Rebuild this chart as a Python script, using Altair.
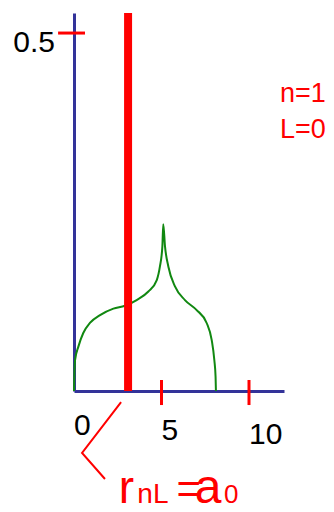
import altair as alt
import pandas as pd

# Green curve (radial probability)
curve_r = [0.0, 0.02, 0.06, 0.25, 0.53, 0.91, 1.49, 2.25, 2.91, 3.58, 4.25, 4.73, 4.91, 5.05, 5.10,
           5.20, 5.39, 5.77, 6.34, 7.01, 7.58, 7.87, 8.02, 8.09, 8.11]
curve_p = [0.0, 0.022, 0.043, 0.062, 0.081, 0.095, 0.106, 0.115, 0.119, 0.127, 0.139, 0.155, 0.174, 0.202, 0.233,
           0.202, 0.174, 0.146, 0.127, 0.113, 0.095, 0.071, 0.043, 0.02, 0.0]

# thick red line at r_nL
r_nl = [3.09]
y_top = 0.528

x_ticks = [5, 10]
x_tick_labels = ["0", "5", "10"]
x_tick_label_pos = [0, 5, 10]
x_tick_label_y = [-0.061, -0.0684, -0.0745]
y_tick = [0.5]
y_tick_label = ["0.5"]

# annotation texts
qn_texts = ["n=1", "L=0"]
qn_x = [11.77, 11.77]
qn_y = [0.4036, 0.353]

label_parts = ["r", "nL", "=", "a", "0"]
label_x = [2.55, 3.62, 5.85, 6.9, 8.57]
label_size = [46, 28, 42, 48, 26]
label_y = -0.157

pointer_x = [2.69, 0.46, 1.77]
pointer_y = [-0.0154, -0.0866, -0.1229]

RED = "#ff0000"
NAVY = "#333399"
GREEN = "#118811"
FONT = "Liberation Sans"

xs = alt.Scale(domain=[0, 12], nice=False, zero=False)
ys = alt.Scale(domain=[0, y_top], nice=False, zero=False)

axis_x = alt.Axis(domainColor=NAVY, domainWidth=3, ticks=False, labels=False, grid=False, title=None)
axis_y = alt.Axis(domainColor=NAVY, domainWidth=3, ticks=False, labels=False, grid=False, title=None)

curve_df = pd.DataFrame({"r": curve_r, "p": curve_p, "o": list(range(len(curve_r)))})
curve = alt.Chart(curve_df).mark_line(color=GREEN, strokeWidth=2, interpolate="monotone").encode(
    x=alt.X("r:Q", scale=xs, axis=axis_x),
    y=alt.Y("p:Q", scale=ys, axis=axis_y),
    order="o:Q",
)

bar_df = pd.DataFrame({"r": r_nl, "y0": [0.0], "y1": [y_top]})
bar = alt.Chart(bar_df).mark_rule(color=RED, strokeWidth=8).encode(
    x=alt.X("r:Q", scale=xs), y=alt.Y("y0:Q", scale=ys), y2="y1:Q"
)

xt_df = pd.DataFrame({"v": x_ticks, "a": [-0.0196] * len(x_ticks), "b": [0.0154] * len(x_ticks)})
xt = alt.Chart(xt_df).mark_rule(color=RED, strokeWidth=3).encode(
    x=alt.X("v:Q", scale=xs), y=alt.Y("a:Q", scale=ys), y2="b:Q"
)

yt_df = pd.DataFrame({"v": y_tick, "a": [-0.91], "b": [0.63]})
yt = alt.Chart(yt_df).mark_rule(color=RED, strokeWidth=3).encode(
    y=alt.Y("v:Q", scale=ys), x=alt.X("a:Q", scale=xs), x2="b:Q"
)

xl_df = pd.DataFrame({"v": x_tick_label_pos, "t": x_tick_labels, "y": x_tick_label_y})
xl = alt.Chart(xl_df).mark_text(align="left", baseline="alphabetic", fontSize=30, font=FONT, color="black").encode(
    x=alt.X("v:Q", scale=xs), y=alt.Y("y:Q", scale=ys), text="t:N"
)

yl_df = pd.DataFrame({"v": y_tick, "t": y_tick_label, "x": [-1.09]})
yl = alt.Chart(yl_df).mark_text(align="right", baseline="alphabetic", dy=19, fontSize=30, font=FONT, color="black").encode(
    x=alt.X("x:Q", scale=xs), y=alt.Y("v:Q", scale=ys), text="t:N"
)

qn_df = pd.DataFrame({"x": qn_x, "y": qn_y, "t": qn_texts})
qn = alt.Chart(qn_df).mark_text(align="left", baseline="alphabetic", fontSize=27, font=FONT, color=RED).encode(
    x=alt.X("x:Q", scale=xs), y=alt.Y("y:Q", scale=ys), text="t:N"
)

lab_df = pd.DataFrame({"x": label_x, "t": label_parts, "s": label_size, "y": [label_y] * len(label_x)})
lab = alt.Chart(lab_df).mark_text(align="left", baseline="alphabetic", font=FONT, color=RED).encode(
    x=alt.X("x:Q", scale=xs), y=alt.Y("y:Q", scale=ys), text="t:N",
    size=alt.Size("s:Q", scale=None, legend=None),
)

ptr_df = pd.DataFrame({"x": pointer_x, "y": pointer_y, "o": [0, 1, 2]})
ptr = alt.Chart(ptr_df).mark_line(color=RED, strokeWidth=2).encode(
    x=alt.X("x:Q", scale=xs), y=alt.Y("y:Q", scale=ys), order="o:Q"
)

chart = alt.layer(curve, bar, xt, yt, xl, yl, qn, lab, ptr).properties(
    width=210, height=378,
    autosize=alt.AutoSizeParams(type="none"),
    padding={"left": 66, "top": 5, "right": 42, "bottom": 113},
    background="white",
).configure_view(stroke=None)

chart.save("out.html", embed_options={"renderer": "svg", "actions": False})
